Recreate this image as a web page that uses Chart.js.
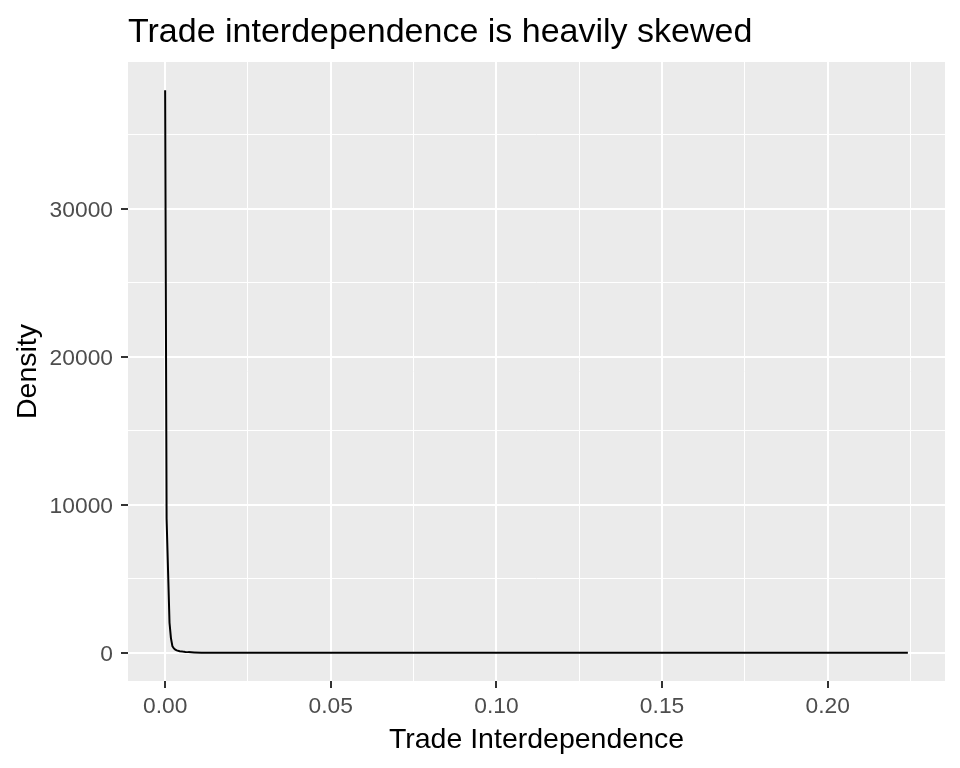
<!DOCTYPE html>
<html>
<head>
<meta charset="utf-8">
<script src="https://cdn.jsdelivr.net/npm/chart.js@4.4.1/dist/chart.umd.min.js"></script>
<style>
  html, body { margin: 0; padding: 0; background: #fff; }
  #wrap { width: 960px; height: 768px; }
</style>
</head>
<body>
<div id="wrap"><canvas id="chart" width="960" height="768"></canvas></div>
<script>
// density estimate (x = trade interdependence, y = density)
const densityX = [0, 0.00044, 0.00088, 0.00132, 0.00175, 0.00219, 0.00263, 0.00307,
  0.00351, 0.00395, 0.00439, 0.00526, 0.00614, 0.00702, 0.00877, 0.01097, 0.01535,
  0.02193, 0.03071, 0.05, 0.08, 0.12, 0.16, 0.2, 0.2242];
const densityY = [38000, 9050, 5540, 2030, 1000, 450, 300, 220,
  170, 140, 115, 85, 65, 50, 30, 15, 6,
  2, 1, 0.4, 0.2, 0.1, 0.1, 0.1, 0.1];

const xMajor = [0, 0.05, 0.10, 0.15, 0.20];
const xMinor = [0.025, 0.075, 0.125, 0.175, 0.225];
const xTickLabels = ["0.00", "0.05", "0.10", "0.15", "0.20"];
const yMajor = [0, 10000, 20000, 30000];
const yMinor = [5000, 15000, 25000, 35000];
const yTickLabels = ["0", "10000", "20000", "30000"];

const FONT = "'Liberation Sans', Arial, sans-serif";

function tickSetter(major, minor) {
  return function (scale) {
    scale.ticks = major.concat(minor).sort((a, b) => a - b).map(v => ({ value: v }));
  };
}
function isMajor(list, v) {
  return list.some(m => Math.abs(m - v) < 1e-9);
}

const ggPanel = {
  id: "ggPanel",
  beforeDraw(chart) {
    const { ctx, chartArea: a } = chart;
    ctx.save();
    ctx.fillStyle = "#ffffff";
    ctx.fillRect(0, 0, chart.width, chart.height);
    ctx.fillStyle = "#EBEBEB";
    ctx.fillRect(a.left, a.top, a.right - a.left, a.bottom - a.top);
    ctx.restore();
  },
  afterDraw(chart) {
    const { ctx, chartArea: a } = chart;
    ctx.save();
    ctx.fillStyle = "#000000";
    ctx.textBaseline = "alphabetic";

    ctx.font = "34px " + FONT;
    ctx.textAlign = "left";
    ctx.fillText("Trade interdependence is heavily skewed", a.left, 42);

    ctx.font = "28.5px " + FONT;
    ctx.textAlign = "center";
    ctx.fillText("Trade Interdependence", (a.left + a.right) / 2, 748);

    ctx.translate(35.5, (a.top + a.bottom) / 2);
    ctx.rotate(-Math.PI / 2);
    ctx.fillText("Density", 0, 0);
    ctx.restore();
  }
};

const ctx = document.getElementById("chart").getContext("2d");
new Chart(ctx, {
  type: "scatter",
  data: {
    datasets: [{
      label: "density",
      data: densityX.map((x, i) => ({ x, y: densityY[i] })),
      showLine: true,
      borderColor: "#000000",
      borderWidth: 2,
      pointRadius: 0,
      tension: 0
    }]
  },
  options: {
    responsive: false,
    animation: false,
    devicePixelRatio: 1,
    layout: { padding: { top: 62, right: 15, left: 0, bottom: 0 } },
    plugins: {
      legend: { display: false },
      tooltip: { enabled: false }
    },
    scales: {
      x: {
        type: "linear",
        min: -0.01121,
        max: 0.23541,
        afterBuildTicks: tickSetter(xMajor, xMinor),
        afterFit(scale) { scale.height = 87; },
        border: { display: false },
        grid: {
          color: "#ffffff",
          lineWidth: c => isMajor(xMajor, c.tick.value) ? 2 : 1,
          tickColor: c => isMajor(xMajor, c.tick.value) ? "#333333" : "rgba(0,0,0,0)",
          tickWidth: 2,
          tickLength: 7
        },
        ticks: {
          autoSkip: false,
          maxRotation: 0,
          padding: 5,
          color: "#4D4D4D",
          font: { family: FONT, size: 22.8 },
          callback: v => {
            const i = xMajor.findIndex(m => Math.abs(m - v) < 1e-9);
            return i >= 0 ? xTickLabels[i] : "";
          }
        }
      },
      y: {
        type: "linear",
        min: -1900,
        max: 39900,
        afterBuildTicks: tickSetter(yMajor, yMinor),
        afterFit(scale) { scale.width = 128; },
        border: { display: false },
        grid: {
          color: "#ffffff",
          lineWidth: c => isMajor(yMajor, c.tick.value) ? 2 : 1,
          tickColor: c => isMajor(yMajor, c.tick.value) ? "#333333" : "rgba(0,0,0,0)",
          tickWidth: 2,
          tickLength: 7
        },
        ticks: {
          autoSkip: false,
          padding: 8,
          labelOffset: 2,
          color: "#4D4D4D",
          font: { family: FONT, size: 22.8 },
          callback: v => {
            const i = yMajor.findIndex(m => Math.abs(m - v) < 1e-9);
            return i >= 0 ? yTickLabels[i] : "";
          }
        }
      }
    }
  },
  plugins: [ggPanel]
});
</script>
</body>
</html>
